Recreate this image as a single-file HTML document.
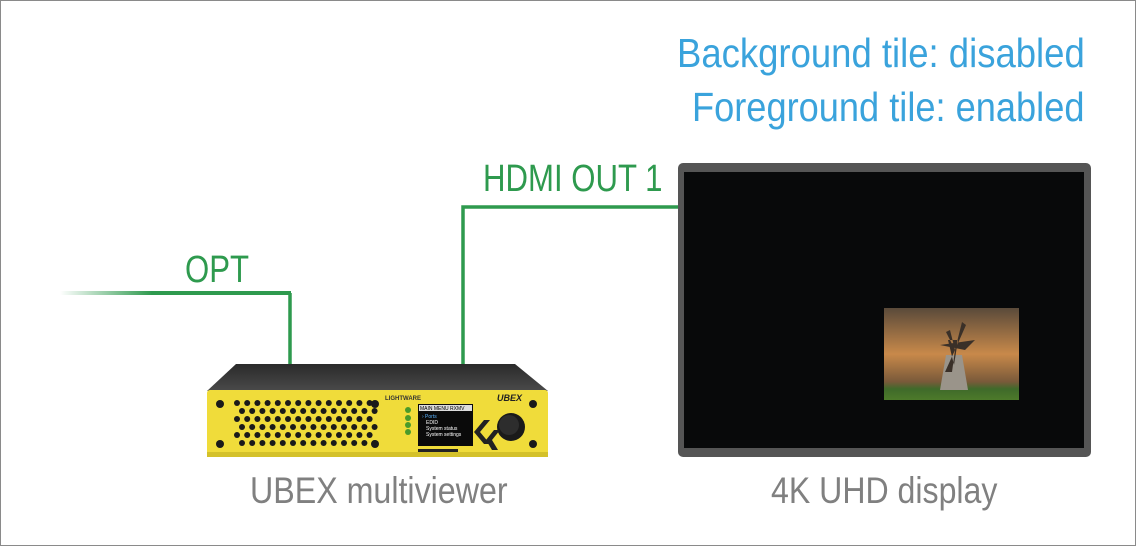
<!DOCTYPE html>
<html><head><style>
body{margin:0;width:1136px;height:546px;overflow:hidden;background:#fff;font-family:"Liberation Sans",sans-serif}
.t{position:absolute;white-space:nowrap;transform-origin:0 0;transform:scaleX(0.82)}
</style></head><body>
<div style="position:absolute;left:0;top:0;width:1134px;height:544px;border:1px solid #8a8a8a"></div>
<svg width="1136" height="546" style="position:absolute;left:0;top:0">
<defs>
<linearGradient id="g" gradientUnits="userSpaceOnUse" x1="60" y1="0" x2="290" y2="0"><stop offset="0" stop-color="#2e9a4e" stop-opacity="0"/><stop offset="0.4" stop-color="#2e9a4e"/></linearGradient>
<linearGradient id="top" x1="0" y1="0" x2="0" y2="1"><stop offset="0" stop-color="#2a2a2a"/><stop offset="1" stop-color="#4a4a4a"/></linearGradient>
<linearGradient id="sky" x1="0" y1="0" x2="0" y2="1"><stop offset="0" stop-color="#5a4a3a"/><stop offset="0.5" stop-color="#c8894a"/><stop offset="0.8" stop-color="#7a5a3a"/><stop offset="0.88" stop-color="#3f6a2a"/><stop offset="1" stop-color="#4d7a2a"/></linearGradient>
</defs>
<rect x="60" y="291" width="231" height="4" fill="url(#g)"/>
<path d="M290 293 V366" stroke="#2e9a4e" stroke-width="3.5" fill="none"/>
<path d="M463 366 V207 H680" stroke="#2e9a4e" stroke-width="3.5" fill="none"/>
<path d="M236 364 H515 L548 391 H207 Z" fill="url(#top)"/>
<rect x="207" y="390" width="341" height="67" rx="3" fill="#f0dc3a"/>
<rect x="207" y="452" width="341" height="5" fill="#d4c12a"/>
<g fill="#1a1a1a">
<circle cx="220" cy="404" r="4"/><circle cx="220" cy="444" r="4"/><circle cx="375" cy="404" r="4"/><circle cx="375" cy="444" r="4"/>
<circle cx="533" cy="404" r="4"/><circle cx="533" cy="444" r="4"/>
</g>
<g fill="#1a1a1a" id="holes"></g>
<rect x="418" y="404" width="55" height="42" fill="#0a0a0a"/>
<rect x="419" y="405" width="53" height="6" fill="#ddd"/>
<text x="420" y="410" font-size="5" fill="#000">MAIN MENU  RXMV</text>
<text x="422" y="418" font-size="5" fill="#5ab4ff">› Ports</text>
<text x="426" y="424" font-size="5" fill="#fff">EDID</text>
<text x="426" y="430" font-size="5" fill="#fff">System status</text>
<text x="426" y="436" font-size="5" fill="#fff">System settings</text>
<circle cx="511" cy="427" r="14" fill="#1a1a1a"/>
<circle cx="509" cy="425" r="10" fill="#2d2d2d"/>
<g fill="#4a9a2a"><circle cx="408" cy="410" r="3"/><circle cx="408" cy="418" r="3"/><circle cx="408" cy="425" r="3"/><circle cx="408" cy="432" r="3"/></g>
<text x="385" y="400" font-size="6" fill="#333" font-weight="bold">LIGHTWARE</text>
<text x="497" y="401" font-size="9" fill="#222" font-weight="bold" font-style="italic">UBEX</text>
<path d="M490 420 L480 432 L490 444 L484 444 L474 432 L484 420Z M500 430 L492 440 L498 450 L492 450 L486 440 L494 430Z" fill="#222"/>
<rect x="418" y="449" width="40" height="3" fill="#222"/>
<rect x="678" y="163" width="413" height="294" rx="5" fill="#555"/>
<rect x="684" y="172" width="400" height="276" fill="#08090a"/>
<rect x="884" y="308" width="135" height="92" fill="url(#sky)"/>
<path d="M940 390 L946 355 L962 355 L968 390 Z" fill="#9a948a"/>
<path d="M954 365 L948 340 L958 340 Z M940 345 L975 340 L965 350Z M955 350 L945 372 L952 372 Z M955 350 L966 325 L962 322 Z M955 350 L950 330 L946 332Z" fill="#3a3028"/>
</svg>
<script>
var g=document.getElementById('holes'),s='';
for(var r=0;r<6;r++)for(var c=0;c<14;c++){var x=237+c*10.2+(r%2?5:0),y=403+r*8;if(x<376)s+='<circle cx="'+x+'" cy="'+y+'" r="3"/>';}
g.innerHTML=s;
</script>
<div class="t" style="left:185px;top:249px;font-size:38px;color:#2e9a4e">OPT</div>
<div class="t" style="left:483px;top:158px;font-size:38px;color:#2e9a4e">HDMI OUT 1</div>
<div class="t" style="left:677px;top:30px;font-size:41px;color:#3aa3dc;transform:scaleX(0.89)">Background tile: disabled</div>
<div class="t" style="left:692px;top:84px;font-size:41px;color:#3aa3dc;transform:scaleX(0.883)">Foreground tile: enabled</div>
<div class="t" style="left:250px;top:470px;font-size:37px;color:#808080;transform:scaleX(0.87)">UBEX multiviewer</div>
<div class="t" style="left:771px;top:470px;font-size:37px;color:#808080;transform:scaleX(0.867)">4K UHD display</div>
</body></html>
